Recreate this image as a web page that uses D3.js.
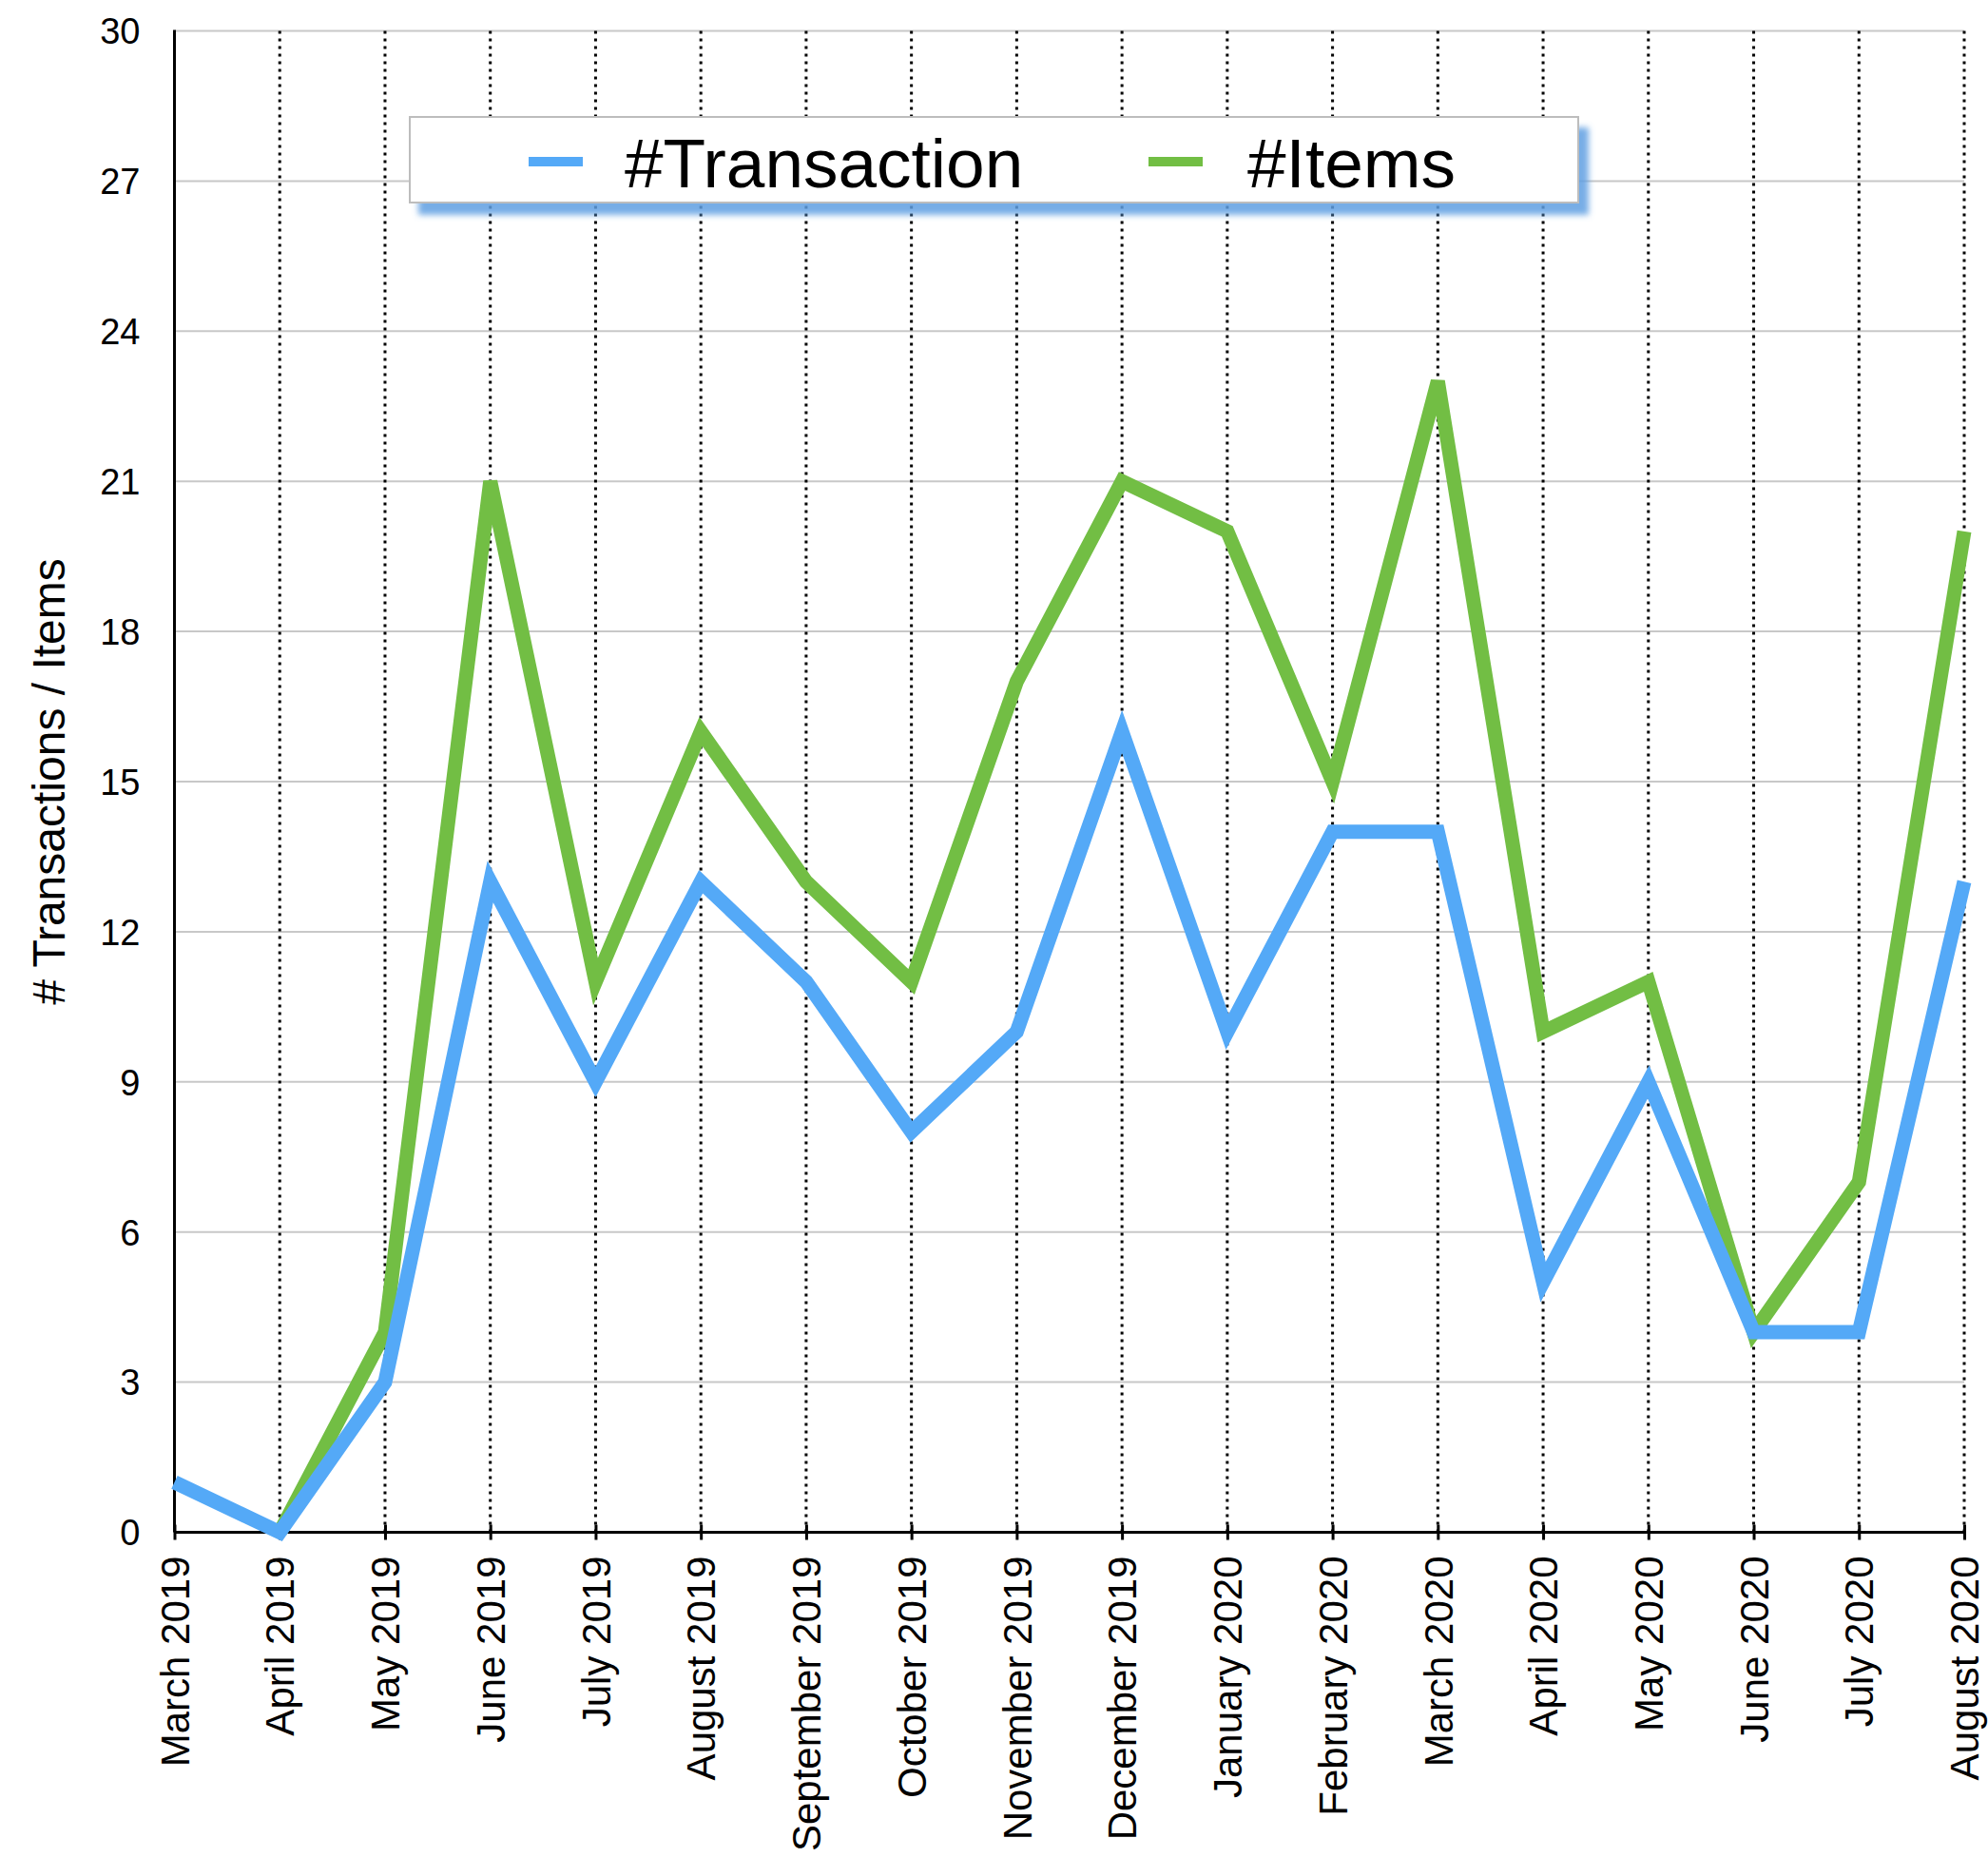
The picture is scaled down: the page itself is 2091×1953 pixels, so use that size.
<!DOCTYPE html>
<meta charset="utf-8">
<style>
    body { margin: 0; background: #fff; }
    svg { display: block; }
    text { font-family: "Liberation Sans", Arial, Helvetica, sans-serif; fill: #000; }
    .grid-h line { stroke: #c8c8c8; stroke-width: 2; }
    .grid-v line { stroke: #000; stroke-width: 3; stroke-dasharray: 3 5; }
    .series { fill: none; stroke-width: 15; stroke-linejoin: miter; stroke-linecap: butt; }
</style>
<svg width="2091" height="1953"></svg>
<script src="https://d3js.org/d3.v7.min.js"></script>
<script>
    // data
    var months = ["March 2019", "April 2019", "May 2019", "June 2019", "July 2019", "August 2019",
        "September 2019", "October 2019", "November 2019", "December 2019", "January 2020",
        "February 2020", "March 2020", "April 2020", "May 2020", "June 2020", "July 2020", "August 2020"];
    var transactions = [1, 0, 3, 13, 9, 13, 11, 8, 10, 16, 10, 14, 14, 5, 9, 4, 4, 13];
    var items = [null, 0, 4, 21, 11, 16, 13, 11, 17, 21, 20, 15, 23, 10, 11, 4, 7, 20];
    var yTicks = [0, 3, 6, 9, 12, 15, 18, 21, 24, 27, 30];

    var svg = d3.select("svg");
    // plot box (window.top is read-only, so don't call it "top")
    var pLeft = 183.5, pRight = 2066, pTop = 32.5, pBottom = 1611.5;

    var x = d3.scalePoint().domain(months).range([pLeft, pRight]);
    var y = d3.scaleLinear().domain([0, 30]).range([pBottom, pTop]);

    // horizontal grid
    svg.append("g").attr("class", "grid-h")
        .selectAll("line")
        .data(yTicks.filter(function(d) { return d > 0; }))
        .enter().append("line")
        .attr("x1", pLeft).attr("x2", pRight)
        .attr("y1", function(d) { return y(d); })
        .attr("y2", function(d) { return y(d); });

    // vertical dotted grid
    svg.append("g").attr("class", "grid-v")
        .selectAll("line")
        .data(months.slice(1))
        .enter().append("line")
        .attr("x1", function(d) { return x(d); })
        .attr("x2", function(d) { return x(d); })
        .attr("y1", pTop).attr("y2", pBottom);

    // y axis
    var yAxis = svg.append("g")
        .attr("transform", "translate(" + pLeft + ",0)")
        .call(d3.axisLeft(y).tickValues(yTicks).tickSize(0).tickPadding(36));
    yAxis.select(".domain").attr("stroke", "#000").attr("stroke-width", 3)
        .attr("d", "M0," + (pTop - 1) + "V" + pBottom);
    yAxis.selectAll("text").attr("font-size", 38).attr("dy", "0.35em");

    // x axis
    var xAxis = svg.append("g")
        .attr("transform", "translate(0," + pBottom + ")")
        .call(d3.axisBottom(x).tickSize(8).tickPadding(0));
    xAxis.select(".domain").attr("stroke", "#000").attr("stroke-width", 3)
        .attr("d", "M" + pLeft + ",0H" + (pRight + 1));
    xAxis.selectAll(".tick line").attr("stroke", "#000").attr("stroke-width", 3)
        .attr("y1", -8).attr("y2", 8);
    xAxis.selectAll("text")
        .attr("font-size", 42)
        .attr("text-anchor", "end")
        .attr("transform", "rotate(-90)")
        .attr("x", -25).attr("y", 0).attr("dy", "0.35em");

    // y title
    svg.append("text")
        .attr("transform", "translate(68," + ((pTop + pBottom) / 2) + ") rotate(-90)")
        .attr("text-anchor", "middle")
        .attr("font-size", 48)
        .text("# Transactions / Items");

    // lines
    var line = d3.line()
        .defined(function(d) { return d != null; })
        .x(function(d, i) { return x(months[i]); })
        .y(function(d) { return y(d); });

    svg.append("path").datum(items)
        .attr("class", "series").attr("stroke", "#72be44")
        .attr("d", line);
    svg.append("path").datum(transactions)
        .attr("class", "series").attr("stroke", "#54a9f7")
        .attr("d", line);

    // legend
    var defs = svg.append("defs");
    defs.append("filter").attr("id", "shadow")
        .attr("x", "-5%").attr("y", "-30%").attr("width", "115%").attr("height", "170%")
        .append("feDropShadow")
        .attr("dx", 10).attr("dy", 12).attr("stdDeviation", 3)
        .attr("flood-color", "#5f9fe2").attr("flood-opacity", 0.85);

    var legend = svg.append("g");
    legend.append("rect")
        .attr("x", 431).attr("y", 123).attr("width", 1229).attr("height", 90)
        .attr("fill", "#fff").attr("stroke", "#bdbdbd").attr("stroke-width", 2)
        .attr("filter", "url(#shadow)");

    var legendItems = [
        { name: "#Transaction", color: "#54a9f7", sx: 556, tx: 657 },
        { name: "#Items", color: "#72be44", sx: 1208, tx: 1312 }
    ];
    legendItems.forEach(function(d) {
        legend.append("rect")
            .attr("x", d.sx).attr("y", 165).attr("width", 57).attr("height", 10)
            .attr("fill", d.color);
        legend.append("text")
            .attr("x", d.tx).attr("y", 197)
            .attr("font-size", 73)
            .text(d.name);
    });
</script>
